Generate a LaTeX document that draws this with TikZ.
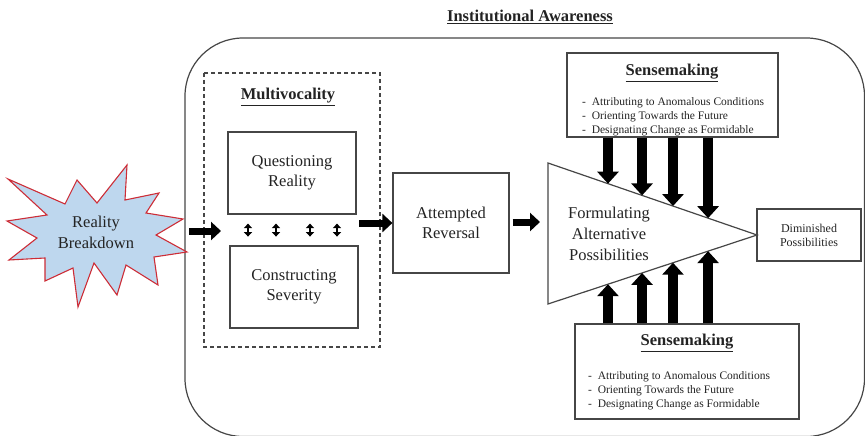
\documentclass[tikz,border=0pt]{standalone}
\usepackage{fontspec}
\setmainfont{Liberation Serif}
\usetikzlibrary{arrows.meta,calc,positioning}
\definecolor{burstfill}{RGB}{190,215,238}
\definecolor{burstline}{RGB}{205,45,55}
\definecolor{edge}{RGB}{70,70,70}
\definecolor{ink}{RGB}{35,35,35}
\tikzstyle{box}=[draw=edge,line width=1.2pt,rectangle,inner sep=0pt,text=ink,align=center,font=\fontsize{16.5}{20}\selectfont]
\tikzstyle{txt}=[text=ink,align=center,font=\fontsize{16.5}{20}\selectfont]
\tikzstyle{ttl}=[text=ink,font=\fontsize{16.5}{20}\selectfont\bfseries]
\tikzstyle{lst}=[text=ink,align=left,anchor=west,inner sep=0pt,font=\fontsize{11.5}{14}\selectfont]
\tikzstyle{fat}=[line width=7pt,-{Triangle[length=10pt,width=18pt]}]
\tikzstyle{fatter}=[line width=10pt,-{Triangle[length=12pt,width=21pt]}]
\tikzstyle{dbl}=[line width=2.6pt,{Triangle[length=4.5pt,width=8pt]}-{Triangle[length=4.5pt,width=8pt]}]

\begin{document}
\begin{tikzpicture}[x=1pt,y=-1pt]
\useasboundingbox (0,0) rectangle (865,436);
% frame
\draw[edge,line width=1.2pt,rounded corners=58pt] (185,38) rectangle (864.5,436.5);
\node[ttl] (ia) at (530,17) {\underline{Institutional Awareness}};
% burst
\draw[burstline,fill=burstfill,line width=1.1pt] (8,179) -- (65,204) -- (77,180) -- (97,203)
  -- (127,165) -- (125,200) -- (159,193) -- (146,213) -- (183,219) -- (156,235)
  -- (187,252) -- (154,257) -- (158,285) -- (126,265) -- (117,295) -- (94,263)
  -- (78,307) -- (73,268) -- (45,281) -- (45,258) -- (9,260) -- (37,238)
  -- (7,221) -- (47,215) -- cycle;
\node[txt,font=\fontsize{16.5}{21}\selectfont] (rb) at (96,232) {Reality\\Breakdown};
% multivocality
\draw[edge,line width=1.2pt,dash pattern=on 4pt off 3pt] (204,73) rectangle (380,347);
\node[ttl] (mv) at (288,97) {\underline{Multivocality}};
\node[box,minimum width=128pt,minimum height=82pt] (qr) at (292,173) {Questioning\\Reality};
\node[box,minimum width=128pt,minimum height=82pt] (cs) at (294,287) {Constructing\\Severity};
\foreach \dx in {-44,-16,18,45} {
  \path (qr.south) ++(\dx,9) coordinate (p) ++(0,13) coordinate (q);
  \draw[dbl] (p) -- (q);
}
\node[box,minimum width=116pt,minimum height=100pt] (ar) at (451,223) {Attempted\\Reversal};
% triangle
\coordinate (tl) at (548,163);
\coordinate (bl) at (548,304);
\coordinate (apex) at (757,235);
\draw[edge,line width=1.2pt] (tl) -- (apex) -- (bl) -- cycle;
\node[txt,font=\fontsize{16.5}{21}\selectfont] (fap) at (609,234) {Formulating\\Alternative\\Possibilities};
\node[box,minimum width=104pt,minimum height=52pt,font=\fontsize{12}{14}\selectfont] (dp) at (809,235) {Diminished\\Possibilities};
% sensemaking
\node[box,minimum width=211pt,minimum height=84pt] (smt) at (672.5,95) {};
\node[ttl] (smtt) at (672,73) {\underline{Sensemaking}};
\node[lst] (smtl) at (582,117) {-\ \ Attributing to Anomalous Conditions\\-\ \ Orienting Towards the Future\\-\ \ Designating Change as Formidable};
\node[box,minimum width=224pt,minimum height=95pt] (smb) at (687,371.5) {};
\node[ttl] (smbt) at (687,343) {\underline{Sensemaking}};
\node[lst] (smbl) at (588,391) {-\ \ Attributing to Anomalous Conditions\\-\ \ Orienting Towards the Future\\-\ \ Designating Change as Formidable};
% arrows
\coordinate (a1) at (189,231);
\coordinate (a2) at (221,231);
\draw[fat] (a1) -- (a2);
\coordinate (b1) at (359,223);
\draw[fat] (b1) -- (ar.west);
\coordinate (c1) at ($(ar.east)+(3,-1)$);
\coordinate (c2) at (540,222);
\draw[fat] (c1) -- (c2);
\foreach \t in {.287,.45,.598,.766} {
  \coordinate (e) at ($(tl)!\t!(apex)$);
  \draw[fatter] (e |- smt.south) -- (e);
  \coordinate (f) at ($(bl)!\t!(apex)$);
  \draw[fatter] (f |- smb.north) -- (f);
}
\end{tikzpicture}
\end{document}
